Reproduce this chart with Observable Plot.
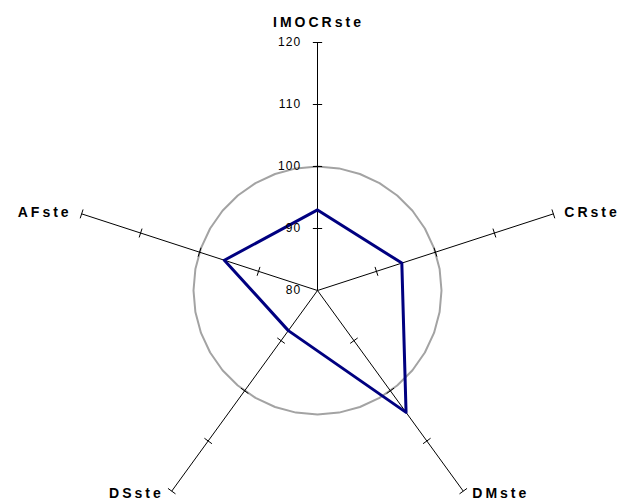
<!DOCTYPE html>
<html>
<head>
<meta charset="utf-8">
<script src="https://cdn.jsdelivr.net/npm/d3@7"></script>
<script src="https://cdn.jsdelivr.net/npm/@observablehq/plot@0.6"></script>
<style>
  html, body { margin: 0; padding: 0; background: #fff; }
  #chart svg { display: block; }
  #chart svg g[font-weight="bold"] text { letter-spacing: 3px; }
  #chart svg g[font-size="12"] text { letter-spacing: 1.2px; }
</style>
</head>
<body>
<div id="chart"></div>
<script>
// ---- data ----
const axes = ["IMOCRste", "CRste", "DMste", "DSste", "AFste"];
const values = [93.0, 94.3, 104.3, 88.0, 95.8];
const tickValues = [80, 90, 100, 110, 120];
const referenceValue = 100;
const rMin = 80, rMax = 120;

// ---- geometry helpers (polar -> cartesian in data units) ----
const n = axes.length;
const ang = i => Math.PI / 2 - i * 2 * Math.PI / n;
const pt = (i, v) => [(v - rMin) * Math.cos(ang(i)), (v - rMin) * Math.sin(ang(i))];

const W = 632, H = 502, cx = 317, cy = 290, pxPerUnit = 6.2;

const poly = axes.map((a, i) => { const [x, y] = pt(i, values[i]); return {axis: a, x, y}; });

const circleN = 36;
const circle = d3.range(circleN + 1).map(k => {
  const a = k * 2 * Math.PI / circleN;
  return {x: (referenceValue - rMin) * Math.cos(a), y: (referenceValue - rMin) * Math.sin(a)};
});

const spokes = axes.map((a, i) => {
  const [x2, y2] = pt(i, rMax);
  return {x1: 0, y1: 0, x2, y2};
});

const tickLen = 0.75;
const tickMarks = [];
axes.forEach((a, i) => {
  tickValues.filter(t => t > rMin).forEach(t => {
    const [x, y] = pt(i, t);
    const px = -Math.sin(ang(i)) * tickLen, py = Math.cos(ang(i)) * tickLen;
    tickMarks.push({x1: x - px, y1: y - py, x2: x + px, y2: y + py});
  });
});

const labelInfo = axes.map((a, i) => {
  const [x, y] = pt(i, rMax);
  const c = Math.cos(ang(i)), s = Math.sin(ang(i));
  let anchor = "middle", dx = 0, dy = 0;
  if (Math.abs(c) < 0.1) { dy = -20; dx = 1; }
  else if (s > 0) { anchor = c > 0 ? "start" : "end"; dx = c > 0 ? 11 : -10; dy = -1; }
  else { anchor = c > 0 ? "start" : "end"; dx = c > 0 ? 9 : -8; dy = 2; }
  return {label: a, x, y, anchor, dx, dy};
});

const tickLabels = tickValues.map(t => ({t, x: 0, y: t - rMin}));

const font = "Arial, 'Liberation Sans', sans-serif";

const plot = Plot.plot({
  width: W,
  height: H,
  margin: 0,
  x: {domain: [-cx / pxPerUnit, (W - cx) / pxPerUnit], axis: null},
  y: {domain: [-(H - cy) / pxPerUnit, cy / pxPerUnit], axis: null},
  style: {background: "#fff", overflow: "visible", fontFamily: font},
  marks: [
    Plot.line(circle, {x: "x", y: "y", stroke: "#a3a3a3", strokeWidth: 2}),
    Plot.link(spokes, {x1: "x1", y1: "y1", x2: "x2", y2: "y2", stroke: "#000", strokeWidth: 1}),
    Plot.link(tickMarks, {x1: "x1", y1: "y1", x2: "x2", y2: "y2", stroke: "#000", strokeWidth: 1}),
    Plot.line(poly, {x: "x", y: "y", curve: "linear-closed", stroke: "#000080", strokeWidth: 3}),
    Plot.text(tickLabels, {x: "x", y: "y", text: d => String(d.t), textAnchor: "end", dx: -16, fontSize: 12, fill: "#000"}),
    ...labelInfo.map(d => Plot.text([d], {x: "x", y: "y", text: "label", textAnchor: d.anchor, dx: d.dx, dy: d.dy, fontSize: 14, fontWeight: "bold", fill: "#000"}))
  ]
});

document.getElementById("chart").appendChild(plot);
</script>
</body>
</html>
